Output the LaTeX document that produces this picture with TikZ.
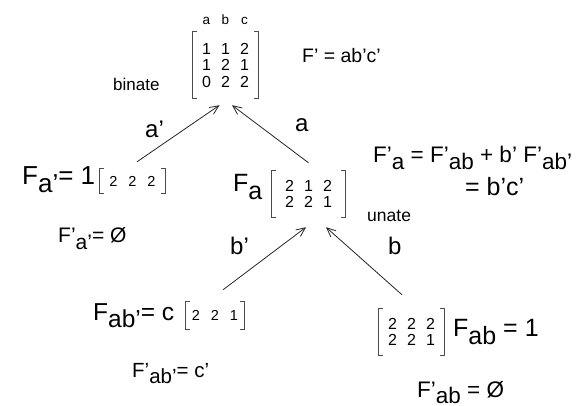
\documentclass[tikz,border=0pt]{standalone}
\usepackage{fontspec}
\setmainfont{Liberation Sans}
\usetikzlibrary{arrows.meta,positioning}
\newcommand\cl[1]{\makebox[19pt]{#1}}
\newcommand\rw[3]{\cl{#1}\cl{#2}\cl{#3}}
\newcommand\sub[1]{\raisebox{-0.3em}{#1}}
\newcommand\fs[1]{\fontsize{#1}{#1}\selectfont}
\newcommand\brackets[1]{%
  \draw[brk] ([xshift=4pt]#1.north west) -- (#1.north west) -- (#1.south west) -- ([xshift=4pt]#1.south west);
  \draw[brk] ([xshift=-4pt]#1.north east) -- (#1.north east) -- (#1.south east) -- ([xshift=-4pt]#1.south east);}

\begin{document}
\begin{tikzpicture}[x=1pt,y=-1pt,font=\fs{24},
  brk/.style={draw=black!70,line width=0.7pt},
  mat/.style={inner sep=0pt,align=center,font=\fontsize{16}{16.5}\selectfont},
  edge/.style={draw=black!85,line width=0.8pt,-{Straight Barb[length=9pt,width=8pt]}},
  small/.style={font=\fs{17}},
  txt/.style={anchor=base west,inner sep=0pt}]
  \useasboundingbox (0,0) rectangle (584,406);

  % root cube
  \node[mat,minimum width=65pt,minimum height=66pt] (root) at (225.5,65) {\rw112\\\rw121\\\rw022};
  \node[txt,font=\fs{13.5},anchor=base] (vars) at (225.5,25) {\rw abc};
  \node[txt,font=\fs{19.5}] (fp) at (302,63) {F’ = ab’c’};
  \node[txt,small] (bin) at (113,91) {binate};

  % a' cofactor
  \node[mat,font=\fs{14.5},minimum width=65pt,minimum height=24pt] (mna) at (132.5,181) {\rw222};
  \node[txt,font=\fs{26}] (fna) at (22,185) {F\sub{a’}= 1};
  \node[txt,font=\fs{21}] (fpna) at (58,243) {F’\sub{a’}= Ø};
  \node[txt] (la1) at (145,138) {a’};

  % a cofactor
  \node[mat,minimum width=73pt,minimum height=46pt] (ma) at (308.5,194) {\rw212\\\rw221};
  \node[txt,font=\fs{25}] (fa) at (233,192) {F\sub{a}};
  \node[txt] (la2) at (295,132) {a};
  \node[txt,font=\fs{22.5}] (fpa) at (373,163) {F’\sub{a} = F’\sub{ab} +  b’ F’\sub{ab’}};
  \node[txt,font=\fs{25}] (fpa2) at (465,196) {= b’c’};
  \node[txt,font=\fs{17.5}] (un) at (367,222) {unate};

  % ab' cofactor
  \node[mat,font=\fs{14.5},minimum width=58pt,minimum height=27pt] (mnb) at (215,315.5) {\rw221};
  \node[txt,font=\fs{24.5}] (fnb) at (93,320) {F\sub{ab’}= c};
  \node[txt,font=\fs{20.5}] (fpnb) at (132,377) {F’\sub{ab’}= c’};
  \node[txt] (lb1) at (230,255) {b’};

  % ab cofactor
  \node[mat,minimum width=65pt,minimum height=46pt] (mb) at (411.5,332) {\rw222\\\rw221};
  \node[txt,font=\fs{25}] (fb) at (453,337) {F\sub{ab} = 1};
  \node[txt,font=\fs{22.5}] (fpb) at (417,397) {F’\sub{ab} = Ø};
  \node[txt] (lb2) at (388,255) {b};

  \brackets{root}
  \brackets{mna}
  \brackets{ma}
  \brackets{mnb}
  \brackets{mb}

  \draw[edge] ([xshift=4.5pt,yshift=7pt]mna.north) -- ([xshift=-6pt,yshift=-7pt]root.south);
  \draw[edge] ([yshift=8pt]ma.north) -- ([xshift=6.5pt,yshift=-7pt]root.south);
  \draw[edge] ([xshift=8pt,yshift=12pt]mnb.north) -- ([xshift=-2.5pt,yshift=-10pt]ma.south);
  \draw[edge] ([xshift=-9.5pt,yshift=14pt]mb.north) -- ([xshift=17.5pt,yshift=-10pt]ma.south);
\end{tikzpicture}
\end{document}
